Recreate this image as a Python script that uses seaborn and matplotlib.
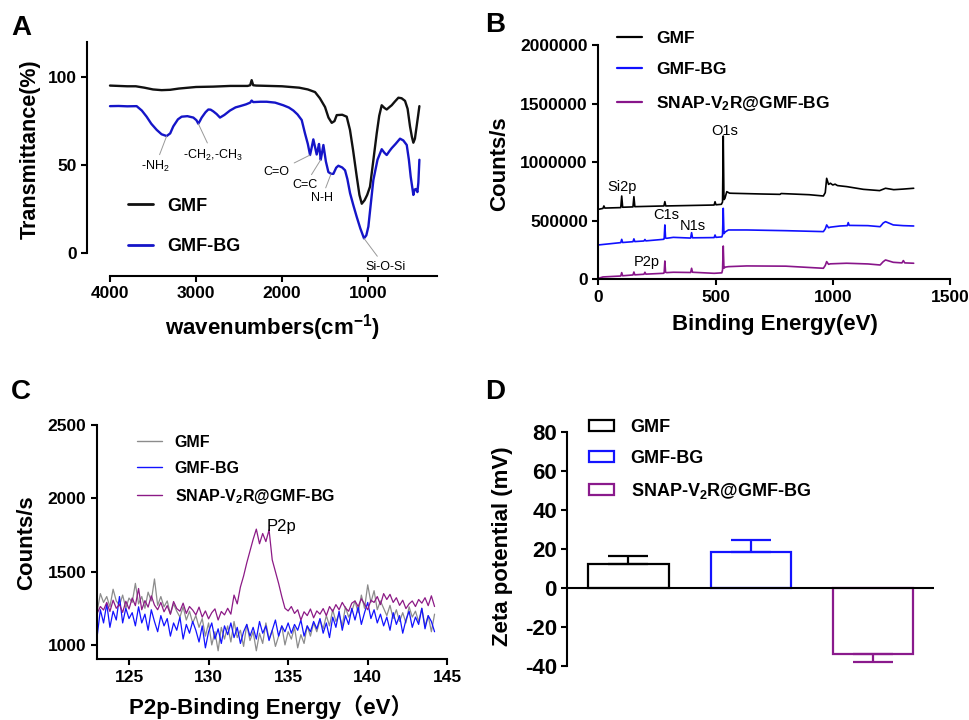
import numpy as np
import pandas as pd
import matplotlib
matplotlib.use("Agg")
import matplotlib.pyplot as plt
import seaborn as sns
from matplotlib.lines import Line2D
from matplotlib.patches import Patch

sns.set_style("ticks", {"axes.edgecolor": "black", "xtick.color": "black",
                        "ytick.color": "black", "text.color": "black",
                        "axes.labelcolor": "black"})
plt.rcParams['font.family'] = ['Liberation Sans', 'Noto Sans CJK SC', 'DejaVu Sans']
plt.rcParams['font.weight'] = 'bold'
plt.rcParams['axes.labelweight'] = 'bold'
plt.rcParams['mathtext.default'] = 'regular'
plt.rcParams['axes.unicode_minus'] = False
plt.rcParams['axes.linewidth'] = 1.5

# ---------------- data ----------------
samples = ['GMF', 'GMF-BG', 'SNAP-V$_2$R@GMF-BG']

# A: FTIR (wavenumber cm-1, transmittance %)
gmf_ftir_wn = [4000, 3900, 3800, 3700, 3600, 3500, 3400, 3300, 3200, 3000,
               2800, 2600, 2400, 2370, 2353, 2335, 2300, 2000, 1800, 1700,
               1616, 1560, 1500, 1460, 1422, 1390, 1364, 1300, 1248, 1210,
               1174, 1130, 1100, 1073, 1040, 1010, 977, 940, 899, 870,
               841, 810, 783, 750, 725, 690, 647, 610, 570, 540,
               512, 490, 473, 455, 435, 418, 403]
gmf_ftir_t = [95.2, 95.0, 94.8, 94.8, 94, 93, 92.6, 92.8, 93.5, 94.4,
              94.6, 95, 95, 95.4, 98.3, 95.4, 95.2, 94.8, 94, 93,
              91.5, 88, 83, 77, 74, 75, 78.4, 78.6, 77.5, 70,
              58.5, 43, 33, 28, 30, 33, 37.7, 52, 68, 78,
              84, 82.5, 81.6, 83, 84, 86, 88.3, 88, 86.5, 82,
              72, 66, 62.7, 65, 72, 78, 83.5]
bg_ftir_wn = [4000, 3900, 3800, 3690, 3630, 3574, 3520, 3457, 3400, 3341,
              3300, 3264, 3210, 3167, 3100, 3031, 2995, 2973, 2950, 2934,
              2890, 2857, 2830, 2798, 2760, 2721, 2670, 2605, 2540, 2488,
              2420, 2370, 2353, 2335, 2250, 2178, 2080, 1985, 1920, 1868,
              1820, 1771, 1733, 1700, 1674, 1655, 1636, 1615, 1597, 1583,
              1570, 1550, 1535, 1519, 1490, 1461, 1430, 1403, 1370, 1345,
              1300, 1267, 1240, 1209, 1170, 1132, 1090, 1047, 1020, 996,
              970, 938, 890, 841, 810, 783, 750, 725, 680, 628,
              590, 550, 525, 504, 488, 473, 460, 442, 426, 415, 403]
bg_ftir_t = [83.5, 83.6, 83.4, 83.5, 81, 77.5, 73.5, 70, 67.5, 66.5,
             68, 72, 76, 77.5, 77.8, 77, 75.5, 73.5, 75.5, 77,
             80, 81.6, 81.5, 80.5, 79, 77, 78.5, 81, 82.8, 83.5,
             84.5, 85.5, 86.7, 85.8, 86, 86, 85.5, 84, 82.7, 81,
             78.8, 75.6, 68, 62, 55.7, 60, 64.6, 60, 56, 59,
             62, 53, 57, 61.4, 52, 46, 45, 45, 48.5, 49.6,
             48.6, 47, 42, 34, 27, 20.6, 14, 8.3, 10, 15,
             27, 41.5, 53, 59, 57, 55.7, 58, 59.6, 62, 65,
             64, 61.4, 53, 43.4, 38, 33, 36, 36.4, 34.6, 40, 53]
ftir_labels = ['-NH$_2$', '-CH$_2$,-CH$_3$', 'C=O', 'C=C', 'N-H', 'Si-O-Si']
ftir_peaks_wn = [3341, 2973, 1674, 1550, 1430, 1047]
ftir_peaks_t = [66.5, 73.5, 55.7, 53, 45, 8.3]

# B: XPS survey (binding energy eV, counts/s in thousands)
gmf_xps_ev = [0, 20, 24, 28, 96, 100, 104, 148, 152, 156, 280, 284, 288,
              494, 498, 502, 525, 530, 533, 536, 540, 548, 560, 575,
              700, 775, 780, 900, 960, 968, 974, 982, 990, 1000, 1010,
              1020, 1060, 1130, 1200, 1225, 1260, 1300, 1345]
gmf_xps_k = [597, 605, 626, 608, 612, 711, 615, 618, 705, 620, 626, 663, 626,
             634, 662, 636, 640, 660, 1223, 680, 690, 748, 735, 734,
             728, 725, 732, 722, 711, 740, 862, 810, 820, 805, 812,
             800, 791, 768, 757, 777, 765, 770, 777]
bg_xps_ev = [0, 96, 100, 104, 148, 152, 156, 195, 199, 203, 278, 281, 284,
             287, 292, 320, 394, 398, 402, 494, 498, 502, 527, 530, 533,
             536, 542, 555, 633, 800, 960, 968, 974, 982, 990, 1031, 1062,
             1066, 1070, 1150, 1202, 1215, 1225, 1258, 1300, 1345]
bg_xps_k = [293, 313, 341, 314, 321, 345, 322, 327, 340, 328, 341, 345, 464,
            352, 350, 358, 352, 398, 354, 356, 378, 358, 362, 380, 606,
            390, 405, 421, 421, 415, 407, 430, 464, 440, 445, 455, 458,
            484, 460, 458, 449, 480, 492, 464, 458, 455]
snap_xps_ev = [0, 20, 96, 100, 104, 148, 152, 156, 195, 199, 203, 278, 281,
               284, 287, 292, 320, 394, 398, 402, 494, 527, 530, 533, 536,
               542, 555, 633, 800, 960, 968, 974, 982, 990, 1059, 1150,
               1202, 1215, 1225, 1258, 1295, 1301, 1307, 1345]
snap_xps_k = [8, 20, 28, 57, 30, 37, 62, 38, 43, 60, 44, 51, 55,
              156, 60, 57, 60, 58, 94, 60, 51, 55, 80, 284, 95,
              104, 108, 114, 112, 94, 118, 151, 128, 132, 137, 131,
              122, 150, 165, 145, 140, 160, 140, 137]
xps_peak_labels = ['O1s', 'Si2p', 'C1s', 'N1s', 'P2p']

# C: P2p high resolution scan, 0.2 eV steps from 123.0 eV
p2p_ev = np.round(np.arange(123.0, 144.21, 0.2), 1)
gmf_p2p = [1230, 1350, 1290, 1330, 1260, 1380, 1300, 1270, 1340, 1250, 1320,
           1290, 1420, 1280, 1330, 1250, 1360, 1300, 1450, 1270, 1330,
           1260, 1300, 1210, 1280, 1230, 1190, 1260, 1170, 1230, 1150,
           1200, 1120, 1180, 1060, 1150, 1000, 1090, 960, 1120, 1040,
           1130, 1020, 1160, 1050, 1100, 990, 1140, 1030, 1090, 960,
           1080, 1010, 1150, 1040, 1100, 990, 1060, 1130, 1000, 1090,
           1040, 1120, 980, 1070, 1010, 1130, 1060, 1150, 1090, 1170,
           1110, 1200, 1130, 1240, 1160, 1210, 1130, 1260, 1190, 1230,
           1300, 1220, 1340, 1250, 1410, 1290, 1370, 1240, 1300, 1250,
           1200, 1270, 1180, 1240, 1160, 1220, 1150, 1260, 1190, 1230,
           1160, 1250, 1130, 1200, 1090, 1210]
bg_p2p = [1060, 1240, 1150, 1280, 1120, 1230, 1170, 1330, 1150, 1250, 1180,
          1220, 1130, 1260, 1150, 1210, 1100, 1240, 1160, 1090, 1200,
          1130, 1180, 1060, 1150, 1100, 1190, 1040, 1140, 1080, 1160,
          1100, 1020, 1130, 980, 1090, 1150, 1040, 1110, 1010, 1130,
          1070, 1150, 1050, 1120, 1010, 1090, 1140, 1060, 1120, 1040,
          1160, 1080, 1130, 1030, 1100, 1170, 1060, 1130, 1090, 1150,
          1080, 1140, 1100, 1170, 1060, 1130, 1090, 1160, 1110, 1180,
          1080, 1150, 1050, 1190, 1120, 1230, 1100, 1200, 1140, 1250,
          1170, 1260, 1140, 1220, 1290, 1180, 1240, 1150, 1210, 1130,
          1190, 1100, 1220, 1140, 1200, 1080, 1170, 1230, 1120, 1190,
          1140, 1250, 1110, 1200, 1160, 1090]
snap_p2p = [1216, 1262, 1238, 1290, 1228, 1305, 1250, 1276, 1222, 1298, 1245,
            1320, 1268, 1385, 1240, 1302, 1258, 1335, 1272, 1240, 1290,
            1226, 1268, 1210, 1296, 1248, 1230, 1285, 1215, 1262, 1238,
            1205, 1258, 1190, 1232, 1178, 1220, 1246, 1170, 1228, 1205,
            1250, 1210, 1340, 1280, 1395, 1470, 1560, 1640, 1720, 1790,
            1690, 1760, 1705, 1785, 1580, 1500, 1420, 1330, 1250, 1232,
            1262, 1215, 1240, 1170, 1226, 1200, 1245, 1185, 1232, 1210,
            1248, 1200, 1262, 1228, 1275, 1240, 1290, 1252, 1230, 1285,
            1300, 1262, 1315, 1278, 1240, 1305, 1290, 1330, 1275, 1350,
            1310, 1345, 1290, 1322, 1270, 1305, 1248, 1280, 1300, 1262,
            1310, 1285, 1322, 1268, 1335, 1262]

# D: zeta potential (mV)
zeta_mean = [12.1, 18.4, -34.0]
zeta_err = [4.1, 6.3, 3.9]

# ---------------- styles ----------------
colors_A = ['#111111', '#1515c8']
colors_B = ['#000000', '#1010ff', '#88158a']
colors_C = ['#8c8c8c', '#1212ff', '#8c1a86']
colors_D = ['#000000', '#1414ff', '#8a1a8c']

fig = plt.figure(figsize=(9.69, 7.2), dpi=100)
axA = fig.add_axes([0.0898, 0.6167, 0.3612, 0.3250])
axB = fig.add_axes([0.6174, 0.6121, 0.3630, 0.3254])
axC = fig.add_axes([0.0998, 0.0843, 0.3618, 0.3254])
axD = fig.add_axes([0.5855, 0.0750, 0.3784, 0.3254])

for ax in (axA, axB, axC, axD):
    sns.despine(ax=ax)
    ax.tick_params(width=1.5, length=4.5, labelsize=12.5, pad=3)

# ---- A ----
dfA = pd.concat([
    pd.DataFrame({'wn': gmf_ftir_wn, 'T': gmf_ftir_t, 'sample': 'GMF'}),
    pd.DataFrame({'wn': bg_ftir_wn, 'T': bg_ftir_t, 'sample': 'GMF-BG'}),
])
sns.lineplot(data=dfA, x='wn', y='T', hue='sample', palette=colors_A,
             estimator=None, errorbar=None, linewidth=1.7, legend=False, ax=axA)
axA.set_xlim(4267, 198)
axA.set_ylim(-13.1, 120)
axA.set_xticks([4000, 3000, 2000, 1000])
axA.set_yticks([0, 50, 100])
axA.spines['left'].set_bounds(0, 120)
axA.spines['bottom'].set_bounds(200, 4000)
axA.set_ylabel('Transmittance(%)', fontsize=15.5, va='center')
axA.set_xlabel('wavenumbers(cm$^{-1}$)', fontsize=16, va='center')
axA.yaxis.set_label_coords(-0.163, 0.543)
axA.xaxis.set_label_coords(0.531, -0.222)
ftir_text_pos = [(3477, 49), (2802, 55.7), (2062, 46.2), (1733, 38.6),
                 (1539, 31), (802, -7.8)]
for lab, (tx, ty), px, py in zip(ftir_labels, ftir_text_pos, ftir_peaks_wn, ftir_peaks_t):
    axA.annotate(lab, xy=(px, py), xytext=(tx, ty), ha='center', va='center',
                 fontsize=9, fontweight='normal',
                 arrowprops=dict(arrowstyle='-', color='0.6', lw=0.7,
                                 shrinkA=1, shrinkB=0))
axA.legend([Line2D([], [], color=c, lw=2) for c in colors_A], ['GMF', 'GMF-BG'],
           loc='upper left', bbox_to_anchor=(0.117, 0.335), frameon=False,
           fontsize=13, handlelength=1.4, handletextpad=0.8, labelspacing=1.3,
           borderpad=0, borderaxespad=0)

# ---- B ----
dfB = pd.concat([
    pd.DataFrame({'ev': gmf_xps_ev, 'cps': np.array(gmf_xps_k) * 1000, 'sample': samples[0]}),
    pd.DataFrame({'ev': bg_xps_ev, 'cps': np.array(bg_xps_k) * 1000, 'sample': samples[1]}),
    pd.DataFrame({'ev': snap_xps_ev, 'cps': np.array(snap_xps_k) * 1000, 'sample': samples[2]}),
])
sns.lineplot(data=dfB, x='ev', y='cps', hue='sample', palette=colors_B,
             estimator=None, errorbar=None, linewidth=1.2, legend=False, ax=axB)
axB.set_xlim(0, 1500)
axB.set_ylim(0, 2000000)
axB.set_xticks([0, 500, 1000, 1500])
axB.set_yticks([0, 500000, 1000000, 1500000, 2000000])
axB.yaxis.set_major_formatter(matplotlib.ticker.StrMethodFormatter('{x:.0f}'))
axB.set_ylabel('Counts/s', fontsize=16, va='center')
axB.set_xlabel('Binding Energy(eV)', fontsize=16, va='center')
axB.yaxis.set_label_coords(-0.2795, 0.495)
axB.xaxis.set_label_coords(0.502, -0.195)
xps_text_pos = [(540, 1266000), (100, 791000), (291, 549000), (405, 458000), (206, 145000)]
for lab, (tx, ty) in zip(xps_peak_labels, xps_text_pos):
    axB.text(tx, ty, lab, ha='center', va='center', fontsize=10.5, fontweight='normal')
axB.legend([Line2D([], [], color=c, lw=1.6) for c in colors_B], samples,
           loc='upper left', bbox_to_anchor=(0.053, 1.062), frameon=False,
           fontsize=12.5, handlelength=1.45, handletextpad=0.8, labelspacing=0.95,
           borderpad=0, borderaxespad=0)

# ---- C ----
dfC = pd.concat([
    pd.DataFrame({'ev': p2p_ev, 'cps': gmf_p2p, 'sample': samples[0]}),
    pd.DataFrame({'ev': p2p_ev, 'cps': bg_p2p, 'sample': samples[1]}),
    pd.DataFrame({'ev': p2p_ev, 'cps': snap_p2p, 'sample': samples[2]}),
])
sns.lineplot(data=dfC, x='ev', y='cps', hue='sample', palette=colors_C,
             estimator=None, errorbar=None, linewidth=0.9, legend=False, ax=axC)
axC.set_xlim(122.97, 145)
axC.set_ylim(902, 2500)
axC.set_xticks([125, 130, 135, 140, 145])
axC.set_yticks([1000, 1500, 2000, 2500])
axC.set_ylabel('Counts/s', fontsize=16, va='center')
axC.set_xlabel('P2p-Binding Energy（eV）', fontsize=16, va='center')
axC.yaxis.set_label_coords(-0.199, 0.496)
axC.xaxis.set_label_coords(0.497, -0.204)
axC.text(134.59, 1807, 'P2p', ha='center', va='center', fontsize=12, fontweight='normal')
axC.legend([Line2D([], [], color=c, lw=1.0) for c in colors_C], samples,
           loc='upper left', bbox_to_anchor=(0.115, 0.958), frameon=False,
           fontsize=11.5, handlelength=1.55, handletextpad=0.8, labelspacing=0.68,
           borderpad=0, borderaxespad=0)

# ---- D ----
sns.barplot(x=samples, y=zeta_mean, hue=samples, palette=colors_D, fill=False,
            linewidth=1.6, width=0.656, errorbar=None, legend=False, ax=axD)
for i, (m, e, c) in enumerate(zip(zeta_mean, zeta_err, colors_D)):
    yerr = [[0], [e]] if m >= 0 else [[e], [0]]
    axD.errorbar([i], [m], yerr=yerr, fmt='none', ecolor=c, elinewidth=1.6,
                 capsize=14.4, capthick=1.6)
axD.set_xlim(-0.5, 2.5)
axD.set_ylim(-40, 80)
axD.set_yticks([-40, -20, 0, 20, 40, 60, 80])
axD.set_xticks([])
axD.spines['bottom'].set_visible(False)
axD.axhline(0, color='black', lw=1.5)
axD.tick_params(axis='y', labelsize=16)
axD.set_ylabel('Zeta potential (mV)', fontsize=16, va='center')
axD.set_xlabel('')
axD.yaxis.set_label_coords(-0.178, 0.513)
axD.legend([Patch(facecolor='white', edgecolor=c, linewidth=1.6) for c in colors_D], samples,
           loc='upper left', bbox_to_anchor=(0.059, 1.055), frameon=False,
           fontsize=13, handlelength=1.4, handleheight=0.5, handletextpad=0.9,
           labelspacing=0.78, borderpad=0, borderaxespad=0)

# panel letters
for letter, (x, y) in zip('ABCD', [(0.0217, 0.961), (0.511, 0.965), (0.0217, 0.4556), (0.511, 0.4556)]):
    fig.text(x, y, letter, fontsize=20, fontweight='bold', ha='center', va='center')

fig.savefig('out.png', dpi=100)
